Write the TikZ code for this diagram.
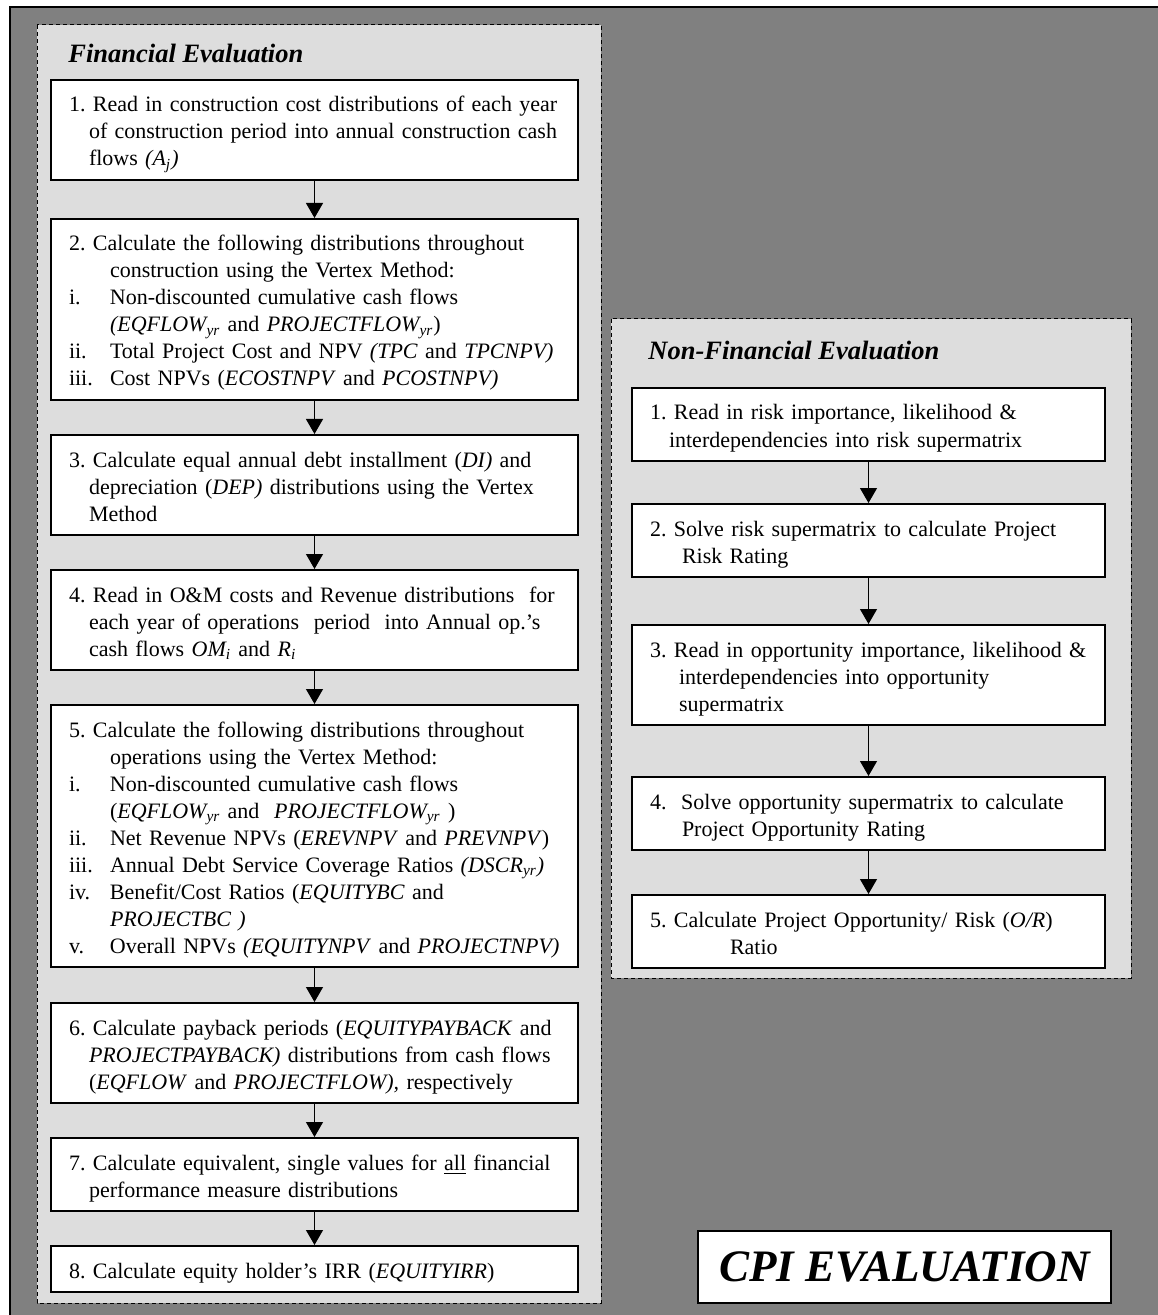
\documentclass[tikz,border=0pt]{standalone}
\usepackage{fontspec}
\setmainfont{Liberation Serif}
\usetikzlibrary{positioning,arrows.meta}

\definecolor{framegray}{RGB}{128,128,128}
\definecolor{panelgray}{RGB}{221,221,221}

% indents used inside the step boxes
\newcommand{\hang}{\hspace*{10pt}}
\newcommand{\cont}{\hspace*{20.5pt}}
\newcommand{\itm}[1]{\makebox[20.5pt][l]{#1}}
\newcommand{\yr}{\textsubscript{yr}}

\tikzset{
  taskbox/.style={draw, fill=white, line width=1pt, anchor=north west,
    inner xsep=0pt, inner ysep=0pt, align=left,
    font=\fontsize{11pt}{13.5pt}\selectfont\frenchspacing,
    execute at begin node={\leftskip=9pt\rule{0pt}{16pt}},
    execute at end node={\rule[-7pt]{0pt}{7pt}}},
  leftbox/.style={taskbox, text width=263.5pt},
  rightbox/.style={taskbox, text width=236.5pt},
  paneltitle/.style={anchor=base west, inner sep=0pt,
    font=\fontsize{13.25pt}{15pt}\selectfont\bfseries\itshape},
  panel/.style={fill=panelgray, draw=black, line width=0.5pt, dash pattern=on 2pt off 1.5pt},
  flowarrow/.style={line width=0.6pt, -{Triangle[length=7.5pt, width=8.5pt]}}
}

\begin{document}
\begin{tikzpicture}[x=0.5pt, y=-0.5pt]

\useasboundingbox (0,0) rectangle (1157,1315);

% Gray outer frame (runs off the right and bottom edges)
\draw[fill=framegray, line width=1pt] (10,7) rectangle (1165,1325);

% Dashed panels
\draw[panel] (37,25) rectangle (601,1303);
\draw[panel] (611,319) rectangle (1131,978);

% Panel titles
\node[paneltitle] (fintitle) at (68,63) {Financial Evaluation};
\node[paneltitle] (nonfintitle) at (648,360) {Non-Financial Evaluation};

% Financial steps
\node[leftbox] (fin1) at (50,79) {1. Read in construction cost distributions of each year\\
\hang of construction period into annual construction cash\\
\hang flows \textit{(A\textsubscript{j})}};

\node[leftbox] (fin2) at (50,218) {2. Calculate the following distributions throughout\\
\cont construction using the Vertex Method:\\
\itm{i.}Non-discounted cumulative cash flows\\
\cont\textit{(EQFLOW\yr} and \textit{PROJECTFLOW\yr})\\
\itm{ii.}Total Project Cost and NPV \textit{(TPC} and \textit{TPCNPV)}\\
\itm{iii.}Cost NPVs (\textit{ECOSTNPV} and \textit{PCOSTNPV)}};

\node[leftbox] (fin3) at (50,434) {3. Calculate equal annual debt installment (\textit{DI)} and\\
\hang depreciation (\textit{DEP)} distributions using the Vertex\\
\hang Method};

\node[leftbox] (fin4) at (50,569) {4. Read in O\&M costs and Revenue distributions\ \ for\\
\hang each year of operations\ \ period\ \ into Annual op.'s\\
\hang cash flows \textit{OM\textsubscript{i}} and \textit{R\textsubscript{i}}};

\node[leftbox] (fin5) at (50,704) {5. Calculate the following distributions throughout\\
\cont operations using the Vertex Method:\\
\itm{i.}Non-discounted cumulative cash flows\\
\cont (\textit{EQFLOW\yr} and\ \ \textit{PROJECTFLOW\yr} )\\
\itm{ii.}Net Revenue NPVs (\textit{EREVNPV} and \textit{PREVNPV})\\
\itm{iii.}Annual Debt Service Coverage Ratios \textit{(DSCR\yr)}\\
\itm{iv.}Benefit/Cost Ratios (\textit{EQUITYBC} and\\
\cont\textit{PROJECTBC )}\\
\itm{v.}Overall NPVs \textit{(EQUITYNPV} and \textit{PROJECTNPV)}};

\node[leftbox] (fin6) at (50,1002) {6. Calculate payback periods (\textit{EQUITYPAYBACK} and\\
\hang\textit{PROJECTPAYBACK)} distributions from cash flows\\
\hang (\textit{EQFLOW} and \textit{PROJECTFLOW),} respectively};

\node[leftbox] (fin7) at (50,1137) {7. Calculate equivalent, single values for \underline{all} financial\\
\hang performance measure distributions};

\node[leftbox] (fin8) at (50,1245) {8. Calculate equity holder's IRR (\textit{EQUITYIRR})};

% Non-financial steps
\node[rightbox] (nonfin1) at (631,387) {1. Read in risk importance, likelihood \&\\
\hspace*{9.5pt}interdependencies into risk supermatrix};

\node[rightbox] (nonfin2) at (631,503) {2. Solve risk supermatrix to calculate Project\\
\hspace*{16pt}Risk Rating};

\node[rightbox] (nonfin3) at (631,624) {3. Read in opportunity importance, likelihood \&\\
\hspace*{14.5pt}interdependencies into opportunity\\
\hspace*{14.5pt}supermatrix};

\node[rightbox] (nonfin4) at (631,776) {4.\ \ Solve opportunity supermatrix to calculate\\
\hspace*{16pt}Project Opportunity Rating};

\node[rightbox] (nonfin5) at (631,894) {5. Calculate Project Opportunity/ Risk (\textit{O/R})\\
\hspace*{40pt}Ratio};

% Heading box
\node[draw, fill=white, line width=1pt, minimum width=206.5pt, minimum height=36pt, inner sep=0pt,
  font=\fontsize{22.5pt}{26pt}\selectfont\bfseries\itshape] (cpi) at (904.5,1267) {CPI EVALUATION};

% Flow arrows, financial column
\draw[flowarrow] (fin1.south) -- (fin2.north);
\draw[flowarrow] (fin2.south) -- (fin3.north);
\draw[flowarrow] (fin3.south) -- (fin4.north);
\draw[flowarrow] (fin4.south) -- (fin5.north);
\draw[flowarrow] (fin5.south) -- (fin6.north);
\draw[flowarrow] (fin6.south) -- (fin7.north);
\draw[flowarrow] (fin7.south) -- (fin8.north);

% Flow arrows, non-financial column
\draw[flowarrow] (nonfin1.south) -- (nonfin2.north);
\draw[flowarrow] (nonfin2.south) -- (nonfin3.north);
\draw[flowarrow] (nonfin3.south) -- (nonfin4.north);
\draw[flowarrow] (nonfin4.south) -- (nonfin5.north);

\end{tikzpicture}
\end{document}
